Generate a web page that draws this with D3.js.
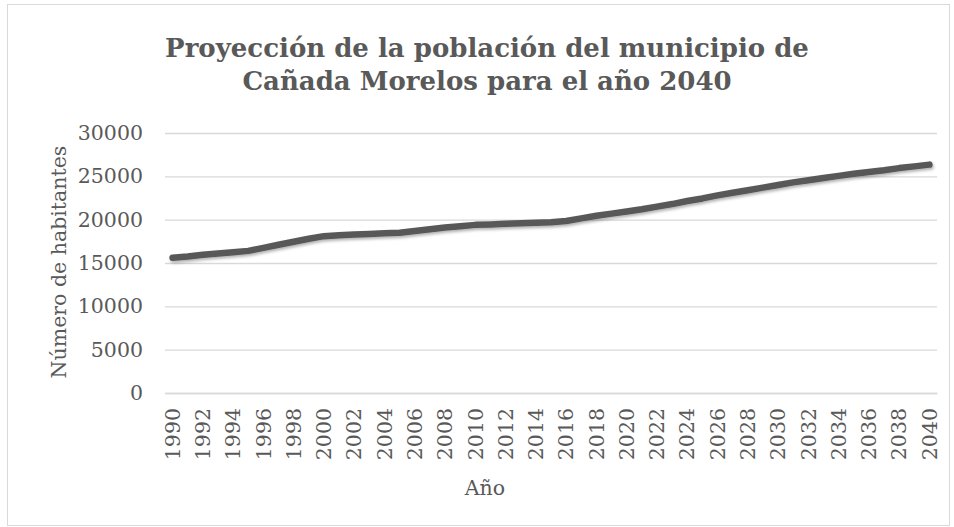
<!DOCTYPE html>
<html><head><meta charset="utf-8">
<script src="https://cdn.jsdelivr.net/npm/d3@7/dist/d3.min.js"></script>
<style>body{margin:0;background:#fff}svg{display:block}</style>
</head><body>
<script>
const years = [1990,1991,1992,1993,1994,1995,1996,1997,1998,1999,2000,2001,2002,2003,2004,2005,2006,2007,2008,2009,2010,2011,2012,2013,2014,2015,2016,2017,2018,2019,2020,2021,2022,2023,2024,2025,2026,2027,2028,2029,2030,2031,2032,2033,2034,2035,2036,2037,2038,2039,2040];
const population = [15600,15750,15950,16100,16250,16400,16750,17100,17450,17800,18100,18200,18280,18350,18420,18500,18700,18900,19100,19250,19400,19450,19520,19580,19650,19700,19850,20150,20450,20700,20950,21200,21500,21800,22150,22450,22800,23100,23400,23700,24000,24300,24550,24800,25050,25300,25500,25700,25950,26150,26350];
const yTicks = [0,5000,10000,15000,20000,25000,30000];
const titleLines = ["Proyección de la población del municipio de","Cañada Morelos para el año 2040"];
const xTitle = "Año";
const yTitle = "Número de habitantes";

const W = 954, H = 527;
const m = {left:165, right:17, top:133, bottom:134};
const svg = d3.select("body").append("svg").attr("width",W).attr("height",H);
const font = "'DejaVu Serif', serif";
const fs = 20.5;

svg.append("rect").attr("x",7.5).attr("y",4.5).attr("width",W-12).attr("height",H-6)
  .attr("fill","#fff").attr("stroke","#d9d9d9");

const x = d3.scaleBand().domain(years).range([m.left, W-m.right]);
const y = d3.scaleLinear().domain([0,30000]).range([H-m.bottom, m.top]);

const defs = svg.append("defs");
const f = defs.append("filter").attr("id","sh").attr("x","-5%").attr("y","-20%").attr("width","110%").attr("height","140%");
f.append("feDropShadow").attr("dx",1).attr("dy",2).attr("stdDeviation",1.8).attr("flood-color","#000").attr("flood-opacity",0.3);

// gridlines
const yAxis = d3.axisLeft(y).tickValues(yTicks).tickSize(-(W-m.left-m.right)).tickPadding(22).tickFormat(d3.format("d"));
const gy = svg.append("g").attr("transform",`translate(${m.left},0)`).call(yAxis);
gy.select(".domain").remove();
gy.selectAll(".tick line").attr("stroke","#d9d9d9").attr("stroke-width",1.3);
gy.selectAll(".tick text").attr("fill","#595959").attr("font-family",font).attr("font-size",fs);

// x axis
const xAxis = d3.axisBottom(x).tickValues(years.filter(d=>(d-1990)%2===0)).tickSize(0).tickPadding(0);
const gx = svg.append("g").attr("transform",`translate(0,${H-m.bottom})`).call(xAxis);
gx.select(".domain").attr("stroke","#d9d9d9").attr("stroke-width",1.3);
gx.selectAll(".tick text").attr("fill","#595959").attr("font-family",font).attr("font-size",fs)
  .attr("transform","rotate(-90)").attr("text-anchor","end").attr("x",-15).attr("y",0).attr("dy","0.35em");

// line
const line = d3.line().x((d,i)=>x(years[i])+x.bandwidth()/2).y(d=>y(d));
svg.append("path").datum(population).attr("d",line).attr("fill","none")
  .attr("stroke","#595959").attr("stroke-width",6.5).attr("stroke-linecap","round").attr("stroke-linejoin","round")
  .attr("filter","url(#sh)");

// titles
const t = svg.append("text").attr("text-anchor","middle").attr("fill","#595959")
  .attr("font-family",font).attr("font-weight","bold").attr("font-size",26);
titleLines.forEach((s,i)=>t.append("tspan").attr("x",487).attr("y",57+i*33).text(s));

svg.append("text").attr("x",485).attr("y",495).attr("text-anchor","middle").attr("fill","#595959")
  .attr("font-family",font).attr("font-size",fs).text(xTitle);
svg.append("text").attr("transform","translate(66,262) rotate(-90)").attr("text-anchor","middle").attr("fill","#595959")
  .attr("font-family",font).attr("font-size",fs).text(yTitle);
</script>
</body></html>
